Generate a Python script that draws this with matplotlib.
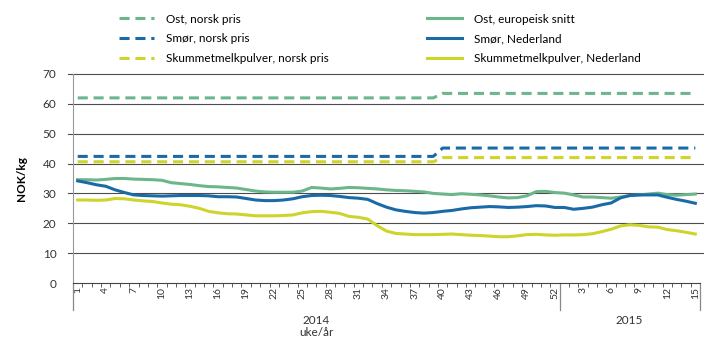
import numpy as np
import matplotlib.pyplot as plt
from matplotlib.lines import Line2D

plt.rcParams['font.family'] = ['Lato', 'DejaVu Sans']

# uker: 2014 uke 1-52, 2015 uke 1-15
weeks_2014 = list(range(1, 53))
weeks_2015 = list(range(1, 16))
week_labels = [str(w) for w in weeks_2014 + weeks_2015]
n = len(week_labels)

# norske priser (NOK/kg), endring fra uke 40 i 2014
ost_norsk = [62.0] * 39 + [63.5] * 28
smor_norsk = [42.4] * 39 + [45.2] * 28
skummet_norsk = [40.6] * 39 + [42.0] * 28

ost_eu = [34.6, 34.6, 34.5, 34.7, 35.0, 35.0, 34.8, 34.7, 34.6, 34.4,
          33.6, 33.3, 33.0, 32.6, 32.3, 32.2, 32.0, 31.8, 31.3, 30.8,
          30.5, 30.4, 30.4, 30.4, 30.8, 32.0, 31.8, 31.5, 31.7, 32.0,
          31.9, 31.7, 31.5, 31.2, 31.0, 30.9, 30.7, 30.5, 30.0, 29.8,
          29.6, 29.9, 29.7, 29.5, 29.2, 28.8, 28.5, 28.6, 29.2, 30.6,
          30.7, 30.3, 30.1, 29.5, 28.8, 28.8, 28.6, 28.4, 28.8, 29.3,
          29.5, 29.8, 30.1, 29.6, 29.4, 29.6, 29.8]

smor_nl = [34.2, 33.6, 32.9, 32.4, 31.2, 30.3, 29.5, 29.3, 29.2, 29.1,
           29.2, 29.3, 29.3, 29.3, 29.2, 28.9, 28.9, 28.8, 28.3, 27.8,
           27.6, 27.6, 27.8, 28.2, 28.9, 29.3, 29.4, 29.3, 29.0, 28.6,
           28.4, 28.0, 26.6, 25.4, 24.5, 24.0, 23.6, 23.4, 23.6, 24.0,
           24.3, 24.8, 25.2, 25.4, 25.6, 25.5, 25.3, 25.4, 25.6, 25.9,
           25.8, 25.3, 25.3, 24.7, 25.0, 25.4, 26.2, 26.8, 28.5, 29.3,
           29.5, 29.5, 29.5, 28.7, 28.0, 27.4, 26.7]

skummet_nl = [27.8, 27.8, 27.7, 27.8, 28.3, 28.2, 27.8, 27.5, 27.3, 26.8,
              26.4, 26.2, 25.7, 25.0, 24.0, 23.5, 23.2, 23.1, 22.8, 22.5,
              22.5, 22.5, 22.6, 22.8, 23.5, 23.9, 24.0, 23.7, 23.3, 22.3,
              22.0, 21.4, 19.2, 17.4, 16.6, 16.4, 16.2, 16.2, 16.2, 16.3,
              16.4, 16.2, 16.0, 15.9, 15.7, 15.5, 15.5, 15.8, 16.2, 16.3,
              16.1, 16.0, 16.1, 16.1, 16.2, 16.5, 17.2, 18.0, 19.1, 19.5,
              19.3, 18.8, 18.7, 17.9, 17.5, 17.0, 16.4]

green = '#6cb68c'
blue = '#1b6aa8'
yellow = '#cdd42b'
dash = (0, (3.3, 1.9))

fig = plt.figure(figsize=(7.19, 3.51), dpi=100)
ax = fig.add_axes([73 / 719, 68 / 351, 627 / 719, 209 / 351])

x = np.arange(n)
ax.plot(x, ost_norsk, color=green, lw=2.2, ls=dash)
ax.plot(x, smor_norsk, color=blue, lw=2.2, ls=dash)
ax.plot(x, skummet_norsk, color=yellow, lw=2.2, ls=dash)
ax.plot(x, ost_eu, color=green, lw=2.2)
ax.plot(x, smor_nl, color=blue, lw=2.2)
ax.plot(x, skummet_nl, color=yellow, lw=2.2)

ax.set_xlim(-0.5, n - 0.5)
ax.set_ylim(0, 70)

# gridlines go a bit past the axes
for yv in range(10, 80, 10):
    ax.axhline(yv, xmin=-0.008, xmax=1.005, color='#4d4d4d', lw=0.8,
               zorder=0, clip_on=False)

for s in ['top', 'right']:
    ax.spines[s].set_visible(False)
ax.spines['left'].set_color('#999999')
ax.spines['bottom'].set_color('#444444')
ax.spines['bottom'].set_linewidth(0.8)

ax.set_yticks(range(0, 80, 10))
ax.tick_params(axis='y', length=0, labelsize=8.5, labelcolor='#333333', pad=12)

lab_idx = [i for i in range(n) if (i < 52 and i % 3 == 0) or (i >= 52 and (i - 51) % 3 == 0)]
ax.set_xticks(lab_idx)
ax.set_xticklabels([week_labels[i] for i in lab_idx], rotation=90,
                   fontsize=7.5, color='#333333')
ax.tick_params(axis='x', which='major', length=0, pad=3)
ax.set_xticks(np.arange(-0.5, n, 1), minor=True)
ax.tick_params(axis='x', which='minor', length=3, width=0.6, color='#444444')

# long separators between years
for xv in [-0.5, 51.5, n - 0.5]:
    ax.axvline(xv, ymin=-0.13, ymax=0, color='#888888', lw=0.9, clip_on=False)

ax.set_ylabel('NOK/kg', fontsize=8.5, fontweight='bold', labelpad=11)

fig.text(316 / 719, 1 - 321 / 351, '2014', ha='center', va='center',
         fontsize=8.5, color='#333333')
fig.text(316 / 719, 1 - 333 / 351, 'uke/år', ha='center', va='center',
         fontsize=8.5, color='#333333')
fig.text(629 / 719, 1 - 321 / 351, '2015', ha='center', va='center',
         fontsize=8.5, color='#333333')

handles = [
    Line2D([], [], color=green, lw=2.2, ls=dash),
    Line2D([], [], color=blue, lw=2.2, ls=dash),
    Line2D([], [], color=yellow, lw=2.2, ls=dash),
    Line2D([], [], color=green, lw=2.2),
    Line2D([], [], color=blue, lw=2.2),
    Line2D([], [], color=yellow, lw=2.2),
]
labels = ['Ost, norsk pris', 'Smør, norsk pris', 'Skummetmelkpulver, norsk pris',
          'Ost, europeisk snitt', 'Smør, Nederland', 'Skummetmelkpulver, Nederland']
fig.legend(handles, labels, ncol=2, loc='upper left',
           bbox_to_anchor=(108 / 719, 1 - 3 / 351), frameon=False,
           fontsize=8.5, handlelength=3.0, handletextpad=1.0,
           columnspacing=8.3, labelspacing=0.75)

fig.savefig('out.png', dpi=100)
